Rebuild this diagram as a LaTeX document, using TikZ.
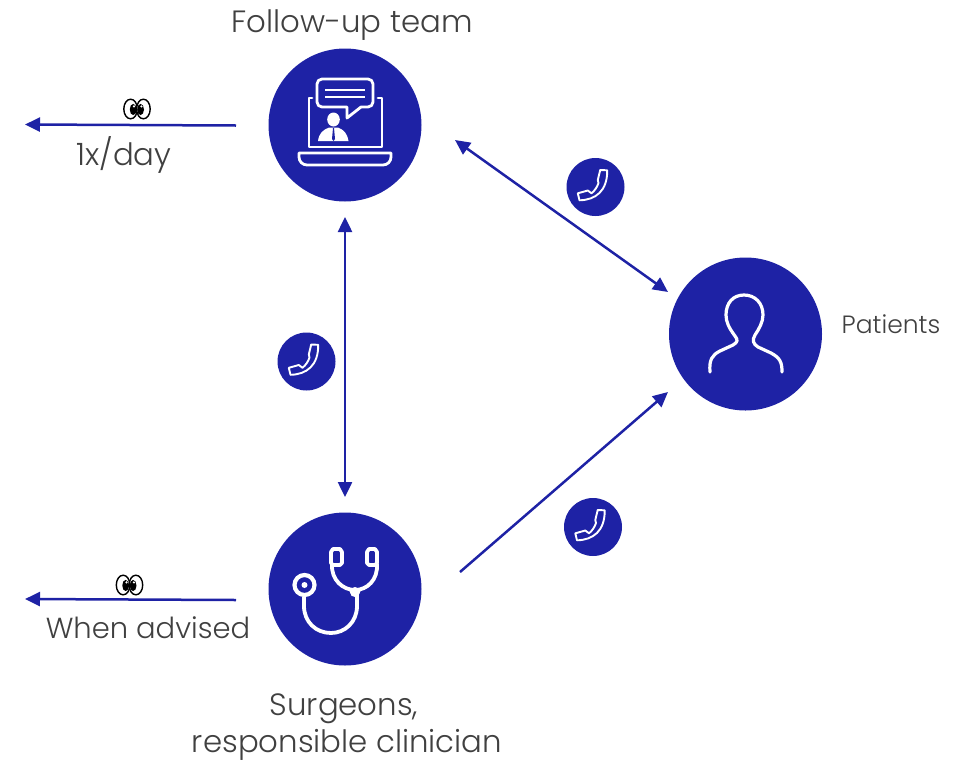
\documentclass[tikz,border=0pt]{standalone}
\usepackage{fontspec}
\setmainfont{Poppins}[UprightFont=* Light]
\usetikzlibrary{arrows.meta}
\definecolor{navy}{HTML}{1E22A5}
\definecolor{ink}{HTML}{404040}
\tikzset{
  x=1pt,y=-1pt,
  hub/.style={circle,fill=navy,draw=none,minimum size=153pt,inner sep=0pt},
  phonedot/.style={circle,fill=navy,draw=none,minimum size=58pt,inner sep=0pt},
  lab/.style={text=ink,font=\fontsize{29}{34}\selectfont,inner sep=0pt,align=center},
  labl/.style={text=ink,font=\fontsize{30.8}{37}\selectfont,inner sep=0pt,align=center},
  labs/.style={text=ink,font=\fontsize{25}{30}\selectfont,inner sep=0pt,align=center},
  link/.style={draw=navy,line width=2.5pt},
  one/.style={link,-{Stealth[length=15pt,width=14pt,inset=0pt]}},
  both/.style={link,{Stealth[length=15pt,width=14pt,inset=0pt]}-{Stealth[length=15pt,width=14pt,inset=0pt]}},
  icon/.style={draw=white,line width=3.2pt,line cap=round,line join=round},
  thin icon/.style={draw=white,line width=1.9pt,line join=round},
  eye/.style={draw=black,line width=1.4pt,fill=white},
}
\newcommand{\phoneicon}[1]{%
  \begin{scope}[shift={(#1)}]
    \draw[thin icon] (4.7,-17) -- (11.7,-16.7)
      .. controls (12,4) and (0,13) .. (-16,13.3)
      -- (-17.7,6.3) -- (-7.7,3.5) -- (-4,6.3)
      .. controls (-1,4) and (2,-0.5) .. (3,-4)
      -- (2.3,-7) -- cycle;
  \end{scope}}
\newcommand{\eyesicon}[1]{%
  \begin{scope}[shift={(#1)}]
    \draw[eye] (-6.4,0) ellipse [x radius=6.8,y radius=9.8];
    \draw[eye] (6.4,0) ellipse [x radius=6.8,y radius=9.8];
    \fill[black] (-3.8,0.5) ellipse [x radius=3.4,y radius=5.6];
    \fill[black] (3.6,0.5) ellipse [x radius=3.4,y radius=5.6];
    \fill[white] (-3,-2.6) circle (1.2);
    \fill[white] (4.4,-2.6) circle (1.2);
  \end{scope}}
\begin{document}
\begin{tikzpicture}
\useasboundingbox (0,0) rectangle (969,761);
% hubs
\node[hub] (team) at (345,125) {};
\node[hub] (surgeons) at (345,589) {};
\node[hub] (patients) at (745.5,334) {};
% phone badges
\node[phonedot] (callA) at (595.5,187) {};
\node[phonedot] (callB) at (306.5,361.5) {};
\node[phonedot] (callC) at (593,527) {};
\phoneicon{callA}
\phoneicon{callB}
\phoneicon{callC}
% connector ends
\coordinate (teamS) at (345,217);
\coordinate (surgN) at (345,497);
\coordinate (teamE) at (455,140);
\coordinate (patNW) at (668,292);
\coordinate (surgE) at (460,572);
\coordinate (patSW) at (668,392);
\coordinate (teamW) at (236,125.5);
\coordinate (outA) at (25,124.5);
\coordinate (surgW) at (236,600);
\coordinate (outB) at (25,599);
\draw[both] (teamS) -- (surgN);
\draw[both] (teamE) -- (patNW);
\draw[one] (surgE) -- (patSW);
\draw[one] (teamW) -- (outA);
\draw[one] (surgW) -- (outB);
% laptop icon
\begin{scope}[icon]
  \draw[line width=2.8pt] (312,98) -- (309,98) -- (309,147) -- (382,147) -- (382,98) -- (378,98);
  \draw[line width=2.8pt] (322,79) -- (368,79) arc[start angle=-90,end angle=0,radius=5] -- (373,102)
     arc[start angle=0,end angle=90,radius=5] -- (361,107) -- (347,118) -- (347,107) -- (322,107)
     arc[start angle=90,end angle=180,radius=5] -- (317,84) arc[start angle=180,end angle=270,radius=5] -- cycle;
  \draw[line width=1.7pt,line cap=butt] (325,90) -- (365,90);
  \draw[line width=1.7pt,line cap=butt] (325,97) -- (365,97);
  \draw[line width=2.8pt] (299,153) -- (391,153) -- (391,157) arc[start angle=0,end angle=90,radius=8] -- (307,165)
     arc[start angle=90,end angle=180,radius=8] -- cycle;
\end{scope}
\fill[white] (333.5,119.5) ellipse [x radius=6.3,y radius=7];
\fill[white] (318,141) .. controls (319,133) and (323,130) .. (329,127.5) -- (338,127.5)
   .. controls (344,130) and (347,133) .. (348.5,141) -- cycle;
\fill[navy] (333,128) -- (334,128) -- (335,139) -- (333.5,141) -- (332,139) -- cycle;
% stethoscope icon
\begin{scope}[icon]
  \draw[line width=3.8pt] (332,564) .. controls (331,580) and (343,590) .. (355,590)
     .. controls (367,590) and (378,580) .. (377,564);
  \draw[line width=3.8pt] (333,549) -- (340,549) -- (342,552) -- (342,563) -- (340,565) -- (333,565) -- (331,563) -- (331,552) -- cycle;
  \draw[line width=3.8pt] (369,549) -- (375,549) -- (377,552) -- (377,563) -- (375,565) -- (369,565) -- (367,563) -- (367,552) -- cycle;
  \draw[line width=3.8pt] (357,595) -- (357,606) .. controls (357,622) and (345,633) .. (331,633)
     .. controls (316,633) and (304,622) .. (304,606) -- (304,597);
  \draw[line width=4.2pt] (304.5,585) circle (10);
\end{scope}
\fill[white] (304.5,585) circle (3);
\fill[white] (349,590) -- (361,590) -- (358,596) -- (352,596) -- cycle;
\fill[white] (355,592) circle (5);
% person icon
\draw[icon] (710,372) .. controls (709,360) and (712,355) .. (720,351)
   -- (733,345) .. controls (738,342) and (738,340) .. (735,336)
   .. controls (729,328) and (726,322) .. (726,315)
   .. controls (726,303) and (733,295) .. (744,295)
   .. controls (755,295) and (763,303) .. (763,315)
   .. controls (763,322) and (759,329) .. (755,335)
   .. controls (752,340) and (753,344) .. (758,347)
   -- (771,353) .. controls (780,358) and (782,362) .. (782,372);
% eyes
\eyesicon{137,109}
\eyesicon{129.5,585}
% labels
\node[labl] (lteam) at (352,25) {Follow-up team};
\node[labl] (lday) at (124,155) {1x/day};
\node[lab] (lwhen) at (148,628) {When advised};
\node[labl,anchor=base] (lsurg) at (344,715) {Surgeons,};
\node[labl,anchor=base] (lresp) at (347,752) {responsible clinician};
\node[labs] (lpat) at (891,324) {Patients};
\end{tikzpicture}
\end{document}
